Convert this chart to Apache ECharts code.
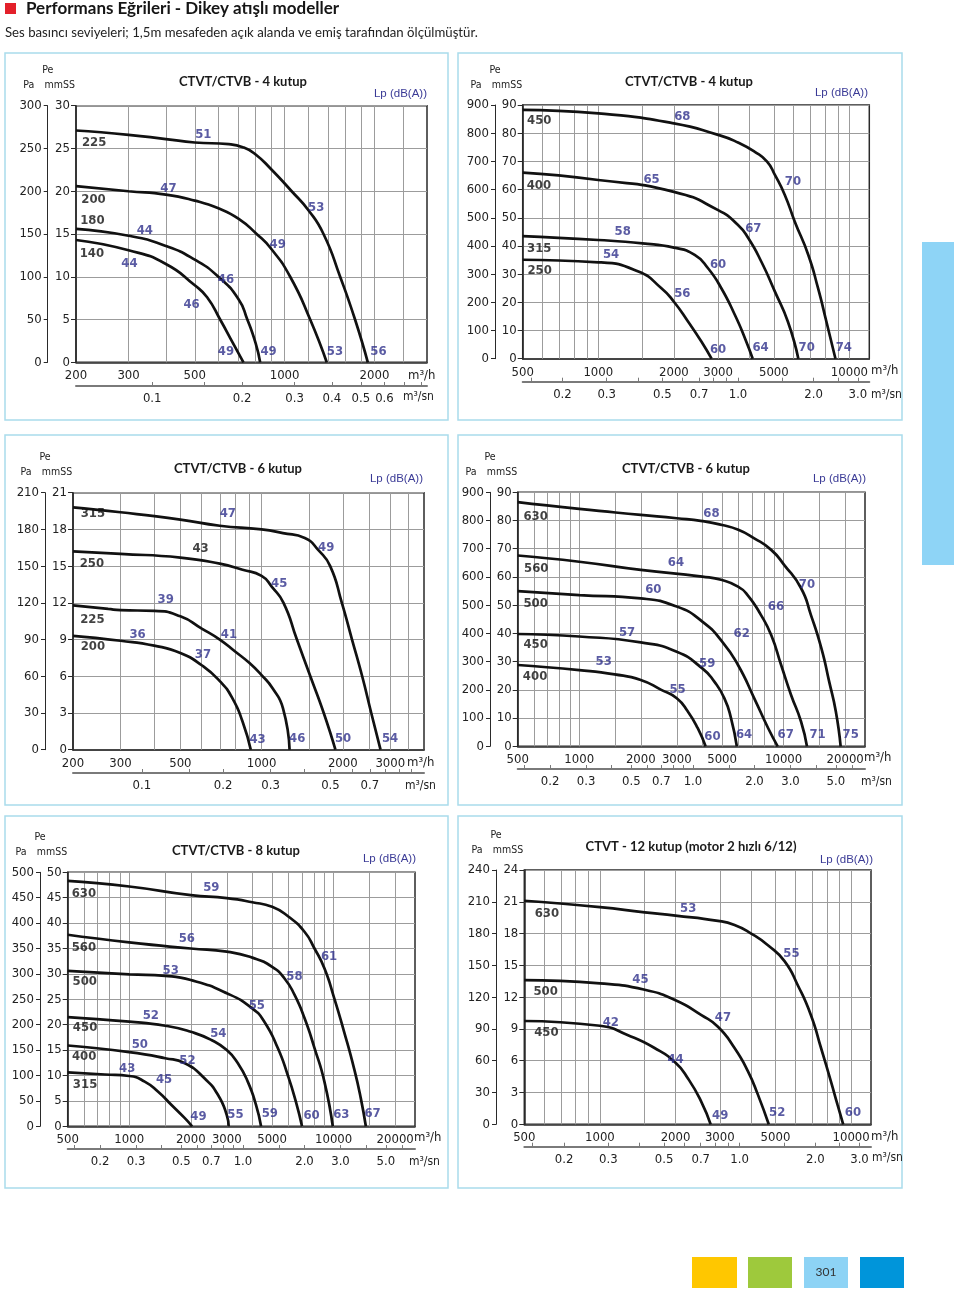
<!DOCTYPE html>
<html lang="tr">
<head>
<meta charset="utf-8">
<title>Performans Eğrileri - Dikey atışlı modeller</title>
<script src="https://cdn.jsdelivr.net/npm/echarts@6/dist/echarts.min.js"></script>
<style>
  html, body { margin: 0; padding: 0; background: #fff; }
  #chart { width: 960px; height: 1293px; }
</style>
</head>
<body>
<div id="chart"></div>
<script>
// ---- veriler: debi m3/h, basınç mmSS ----

// CTVT/CTVB - 4 kutup (küçük)
const p1Flow = [200, 300, 500, 1000, 2000];
const p1FlowSec = [0.1, 0.2, 0.3, 0.4, 0.5, 0.6];
const p1SecTicks = [0.1, 0.15, 0.2, 0.3, 0.4, 0.5, 0.6, 0.7, 0.8];
const p1VGrid = [300, 400, 500, 600, 700, 800, 900, 1000, 1200, 1400, 1600, 1800, 2000, 2500];
const p1c225 = [[200, 27.1], [300, 26.6], [400, 26.1], [500, 25.7], [650, 25.5], [730, 25.1], [800, 24.3], [900, 22.6], [1056, 20], [1200, 17.8], [1350, 15], [1535, 10], [1722, 5], [1900, 0]];
const p1c200 = [[200, 20.6], [300, 20.0], [400, 19.6], [500, 18.9], [600, 18.0], [700, 16.8], [806, 15], [900, 13.3], [1044, 10], [1218, 5], [1384, 0]];
const p1c180 = [[200, 15.6], [300, 14.8], [400, 13.6], [500, 12.0], [600, 10], [700, 7.4], [750, 5], [800, 2.2], [828, 0]];
const p1c140 = [[200, 14.3], [300, 13.1], [400, 11.5], [500, 9.0], [550, 7.6], [608, 5], [670, 2.3], [728, 0]];
const p1Lp = [[534, 26.6, '51'], [408, 20.3, '47'], [340, 15.4, '44'], [302, 11.5, '44'], [1276, 18.1, '53'], [948, 13.8, '49'], [636, 9.7, '46'], [488, 6.8, '46'], [636, 1.25, '49'], [884, 1.25, '49'], [1474, 1.25, '53'], [2063, 1.25, '56']];
const p1Sizes = [[230, 25.7, '225'], [229, 19.0, '200'], [227, 16.6, '180'], [226, 12.7, '140']];

// CTVT/CTVB - 4 kutup (büyük)
const p2Flow = [500, 1000, 2000, 3000, 5000, 10000];
const p2FlowSec = [0.2, 0.3, 0.5, 0.7, 1.0, 2.0, 3.0];
const p2SecTicks = [0.15, 0.2, 0.3, 0.4, 0.5, 0.6, 0.7, 0.8, 0.9, 1, 1.5, 2, 2.5, 3];
const p2VGrid = [600, 700, 800, 900, 1000, 1500, 2000, 3000, 4000, 5000, 6000, 7000, 8000, 9000, 10000];
const p2c450 = [[500, 88.3], [1000, 87.0], [2000, 83.5], [3000, 79.4], [3600, 76.7], [4200, 73.4], [4700, 69.9], [5050, 65.2], [5530, 58.1], [6060, 48.6], [6860, 36.8], [7500, 25], [8100, 13.1], [8800, 0]];
const p2c400 = [[500, 66.0], [1000, 63.4], [2000, 59.2], [3000, 52.7], [3600, 47.4], [3960, 42.7], [4460, 34.4], [5050, 23.8], [5690, 13.1], [6260, 0]];
const p2c315 = [[500, 43.5], [1000, 42.1], [1500, 40.9], [2000, 39.4], [2420, 36.8], [2740, 32], [3090, 25], [3500, 15.5], [3840, 7.2], [4120, 0]];
const p2c250 = [[500, 35.1], [1000, 34.2], [1444, 30.9], [1784, 25], [2000, 20.2], [2280, 13.1], [2577, 6], [2825, 0]];
const p2Lp = [[2160, 85.9, '68'], [1630, 63.7, '65'], [1250, 45.1, '58'], [1124, 37.0, '54'], [5960, 62.8, '70'], [4145, 46.0, '67'], [3000, 33.5, '60'], [2160, 23.2, '56'], [3000, 3.1, '60'], [4427, 3.9, '64'], [6760, 3.9, '70'], [9500, 3.9, '74']];
const p2Sizes = [[582, 84.4, '450'], [580, 61.4, '400'], [582, 39.1, '315'], [584, 31.1, '250']];

// CTVT/CTVB - 6 kutup (küçük)
const p3Flow = [200, 300, 500, 1000, 2000, 3000];
const p3FlowSec = [0.1, 0.2, 0.3, 0.5, 0.7];
const p3SecTicks = [0.1, 0.15, 0.2, 0.3, 0.4, 0.5, 0.6, 0.7, 0.8, 0.9, 1];
const p3VGrid = [300, 400, 500, 600, 700, 800, 900, 1000, 1500, 2000, 2500, 3000, 3500];
const p3c315 = [[200, 19.8], [300, 19.4], [500, 18.8], [700, 18.3], [1000, 18.0], [1200, 17.7], [1446, 17.3], [1624, 16.3], [1796, 15], [1984, 12], [2164, 9], [2360, 6], [2550, 3], [2760, 0]];
const p3c250 = [[200, 16.2], [300, 16.0], [500, 15.7], [700, 15.2], [850, 14.7], [1000, 14.2], [1092, 13.3], [1206, 12], [1352, 9], [1516, 6], [1700, 3], [1878, 0]];
const p3c225 = [[200, 11.8], [270, 11.5], [300, 11.4], [400, 11.35], [500, 10.9], [600, 9.9], [700, 9.0], [800, 8.0], [900, 7.1], [1000, 6.1], [1100, 5.0], [1200, 3.4], [1270, 0]];
const p3c200 = [[200, 9.3], [300, 8.9], [400, 8.5], [500, 7.9], [600, 6.9], [700, 5.6], [780, 4.2], [850, 2.3], [912, 0]];
const p3Lp = [[750, 19.3, '47'], [1736, 16.5, '49'], [1162, 13.6, '45'], [441, 12.3, '39'], [757, 9.37, '41'], [347, 9.4, '36'], [606, 7.74, '37'], [966, 0.82, '43'], [1355, 0.87, '46'], [2005, 0.9, '50'], [2994, 0.93, '54']];
const p3Sizes = [[237, 19.3, '315'], [235, 15.2, '250'], [236, 10.6, '225'], [237, 8.4, '200'], [594, 16.4, '43']];

// CTVT/CTVB - 6 kutup (büyük)
const p4Flow = [500, 1000, 2000, 3000, 5000, 10000, 20000];
const p4FlowSec = [0.2, 0.3, 0.5, 0.7, 1.0, 2.0, 3.0, 5.0];
const p4SecTicks = [0.15, 0.2, 0.3, 0.4, 0.5, 0.6, 0.7, 0.8, 0.9, 1, 1.5, 2, 3, 4, 5, 6];
const p4VGrid = [600, 700, 800, 900, 1000, 1500, 2000, 3000, 4000, 5000, 6000, 7000, 8000, 9000, 10000, 15000, 20000];
const p4c630 = [[500, 86.5], [1000, 84.1], [2000, 82.0], [3000, 80.8], [4000, 79.8], [5000, 78.4], [6000, 76.7], [7180, 73.7], [8690, 69.6], [10050, 64.3], [12170, 56], [13600, 46.5], [15300, 34.7], [16700, 22.9], [18000, 12.3], [19000, 0]];
const p4c560 = [[500, 67.6], [1000, 65.4], [2000, 62.5], [4000, 60.1], [5000, 58.9], [5980, 56.6], [6660, 53.6], [7750, 46.5], [8690, 39.4], [9720, 28.8], [10870, 18.2], [12170, 8.7], [13000, 0]];
const p4c500 = [[500, 55.0], [1000, 53.6], [2000, 52.4], [3000, 49.5], [4000, 44.2], [5000, 37.1], [5980, 28.8], [7180, 17.0], [8400, 6.4], [9350, 0]];
const p4c450 = [[500, 39.8], [1000, 38.9], [2000, 36.8], [3000, 33.5], [4000, 27.6], [4580, 22.9], [5130, 17.0], [5530, 9.9], [5900, 0]];
const p4c400 = [[500, 28.8], [1000, 27.0], [1490, 25.5], [2000, 23.5], [2520, 20.0], [3000, 17.0], [3400, 12.3], [3800, 6.4], [4150, 0]];
const p4Lp = [[4435, 82.3, '68'], [2970, 65.2, '64'], [2303, 55.4, '60'], [13000, 57.2, '70'], [9170, 49.4, '66'], [6235, 40.0, '62'], [1714, 40.4, '57'], [4226, 29.2, '59'], [1318, 30.1, '53'], [3027, 20.2, '55'], [4487, 3.5, '60'], [6400, 4.0, '64'], [10226, 4.2, '67'], [14650, 4.3, '71'], [21280, 4.3, '75']];
const p4Sizes = [[612, 81.4, '630'], [616, 62.9, '560'], [612, 50.7, '500'], [612, 36.2, '450'], [608, 24.6, '400']];

// CTVT/CTVB - 8 kutup
const p5Flow = [500, 1000, 2000, 3000, 5000, 10000, 20000];
const p5FlowSec = [0.2, 0.3, 0.5, 0.7, 1.0, 2.0, 3.0, 5.0];
const p5SecTicks = [0.15, 0.2, 0.3, 0.4, 0.5, 0.6, 0.7, 0.8, 0.9, 1, 1.5, 2, 3, 4, 5, 6];
const p5VGrid = [600, 700, 800, 900, 1000, 1500, 2000, 3000, 4000, 5000, 6000, 7000, 8000, 9000, 10000, 15000, 20000];
const p5c630 = [[500, 48.3], [1000, 47.2], [2000, 45.5], [3000, 44.9], [4000, 44.1], [5000, 43.2], [6000, 41.3], [7200, 38.3], [8060, 35], [9010, 31.1], [10070, 25.2], [11250, 18.6], [12580, 11.4], [13580, 5.5], [14370, 0]];
const p5c560 = [[500, 37.7], [1000, 36.2], [2000, 35.0], [3000, 34.4], [4000, 33.2], [5000, 31.4], [5750, 29.1], [6430, 25.9], [7200, 21.3], [8060, 15.4], [9010, 8.8], [9900, 0]];
const p5c500 = [[500, 30.6], [1000, 29.9], [1500, 29.6], [2000, 28.8], [3000, 26.2], [4000, 23.2], [4580, 20.6], [5330, 15.4], [5960, 10.1], [6530, 4.9], [7000, 0]];
const p5c450 = [[500, 21.5], [1000, 20.6], [1500, 19.8], [2000, 18.6], [2520, 17.0], [3000, 15.0], [3400, 12.4], [3800, 8.8], [4170, 4.2], [4414, 0]];
const p5c400 = [[500, 15.9], [1000, 14.6], [1500, 13.4], [1870, 12.4], [2340, 9.4], [2715, 6.2], [3000, 2.2], [3065, 0]];
const p5c315 = [[500, 10.6], [760, 10.2], [1000, 9.9], [1190, 8.8], [1385, 6.8], [1610, 4.2], [1870, 1.6], [2030, 0]];
const p5Lp = [[2520, 46.9, '59'], [1914, 36.9, '56'], [1595, 30.7, '53'], [9500, 33.4, '61'], [6430, 29.5, '58'], [4210, 23.75, '55'], [1275, 21.8, '52'], [2727, 18.2, '54'], [1127, 16.1, '50'], [1925, 12.9, '52'], [978, 11.4, '43'], [1480, 9.25, '45'], [2180, 1.84, '49'], [3310, 2.2, '55'], [4870, 2.4, '59'], [7800, 2.1, '60'], [10900, 2.2, '63'], [15500, 2.4, '67']];
const p5Sizes = [[600, 45.9, '630'], [600, 35.2, '560'], [606, 28.5, '500'], [608, 19.4, '450'], [602, 13.8, '400'], [608, 8.3, '315']];

// CTVT - 12 kutup
const p6Flow = [500, 1000, 2000, 3000, 5000, 10000];
const p6FlowSec = [0.2, 0.3, 0.5, 0.7, 1.0, 2.0, 3.0];
const p6SecTicks = [0.15, 0.2, 0.3, 0.4, 0.5, 0.6, 0.7, 0.8, 0.9, 1, 1.5, 2, 2.5, 3];
const p6VGrid = [600, 700, 800, 900, 1000, 1500, 2000, 3000, 4000, 5000, 6000, 7000, 8000, 9000, 10000];
const p6c630 = [[500, 21.1], [1000, 20.5], [1508, 20.0], [2000, 19.7], [2950, 19.2], [3435, 18.8], [4000, 18.0], [4665, 16.9], [5430, 15.4], [6140, 13.1], [6920, 10.3], [7590, 7.2], [8320, 4.0], [8840, 1.8], [9300, 0]];
const p6c500 = [[500, 13.6], [1000, 13.3], [1508, 12.7], [2000, 11.7], [2536, 10.3], [2950, 9.2], [3435, 7.2], [3885, 5.0], [4255, 2.8], [4700, 0]];
const p6c450 = [[500, 9.75], [1000, 9.3], [1294, 8.4], [1650, 7.2], [2000, 5.8], [2245, 4.3], [2536, 2.1], [2760, 0]];
const p6Lp = [[2245, 20.4, '53'], [5790, 16.1, '55'], [1450, 13.7, '45'], [3090, 10.1, '47'], [1105, 9.6, '42'], [2000, 6.1, '44'], [3010, 0.8, '49'], [5080, 1.1, '52'], [10170, 1.1, '60']];
const p6Sizes = [[615, 19.9, '630'], [608, 12.5, '500'], [612, 8.65, '450']];

// ---- yerleşim ----
const NARROW = "'Liberation Sans Narrow','DejaVu Sans Condensed','Liberation Sans',sans-serif";
const SANS = "Lato, 'Open Sans', sans-serif";
const BLUE = '#31328c';
const INK = '#222';

const panels = [
  { box: [5, 53, 443, 367], left: 76, top: 105.7, width: 351, height: 256.6, paOffset: 28.3, secOffset: 23.7,
    xMin: 200, xMax: 3000, yMax: 30, yInt: 5, title: 'CTVT/CTVB - 4 kutup', titlePos: [243, 82], lpPos: [427, 94],
    unitH: [408, 376], unitS: [403, 397],
    flow: p1Flow, flowSec: p1FlowSec, secTicks: p1SecTicks, vGrid: p1VGrid,
    curves: [p1c225, p1c200, p1c180, p1c140], lp: p1Lp, sizes: p1Sizes },
  { box: [458, 53, 444, 367], left: 522.7, top: 105, width: 346.6, height: 253.7, paOffset: 27.7, secOffset: 23,
    xMin: 500, xMax: 12000, yMax: 90, yInt: 10, title: 'CTVT/CTVB - 4 kutup', titlePos: [689, 82], lpPos: [868, 93],
    unitH: [871, 371], unitS: [871, 395],
    flow: p2Flow, flowSec: p2FlowSec, secTicks: p2SecTicks, vGrid: p2VGrid,
    curves: [p2c450, p2c400, p2c315, p2c250], lp: p2Lp, sizes: p2Sizes },
  { box: [5, 435, 443, 370], left: 73, top: 492.7, width: 351, height: 257, paOffset: 28, secOffset: 23.3,
    xMin: 200, xMax: 4000, yMax: 21, yInt: 3, title: 'CTVT/CTVB - 6 kutup', titlePos: [238, 469], lpPos: [423, 479],
    unitH: [407, 763], unitS: [405, 786],
    flow: p3Flow, flowSec: p3FlowSec, secTicks: p3SecTicks, vGrid: p3VGrid,
    curves: [p3c315, p3c250, p3c225, p3c200], lp: p3Lp, sizes: p3Sizes },
  { box: [458, 435, 444, 370], left: 517.7, top: 492.3, width: 347.3, height: 254, paOffset: 27.7, secOffset: 22.7,
    xMin: 500, xMax: 25000, yMax: 90, yInt: 10, title: 'CTVT/CTVB - 6 kutup', titlePos: [686, 469], lpPos: [866, 479],
    unitH: [864, 758], unitS: [861, 782],
    flow: p4Flow, flowSec: p4FlowSec, secTicks: p4SecTicks, vGrid: p4VGrid,
    curves: [p4c630, p4c560, p4c500, p4c450, p4c400], lp: p4Lp, sizes: p4Sizes },
  { box: [5, 816, 443, 372], left: 67.7, top: 872.3, width: 347.3, height: 254, paOffset: 27.7, secOffset: 22.7,
    xMin: 500, xMax: 25000, yMax: 50, yInt: 5, title: 'CTVT/CTVB - 8 kutup', titlePos: [236, 851], lpPos: [416, 859],
    unitH: [414, 1138], unitS: [409, 1162],
    flow: p5Flow, flowSec: p5FlowSec, secTicks: p5SecTicks, vGrid: p5VGrid,
    curves: [p5c630, p5c560, p5c500, p5c450, p5c400, p5c315], lp: p5Lp, sizes: p5Sizes },
  { box: [458, 816, 444, 372], left: 524.3, top: 870, width: 346.7, height: 254.3, paOffset: 28.3, secOffset: 22.4,
    xMin: 500, xMax: 12000, yMax: 24, yInt: 3, title: 'CTVT - 12 kutup (motor 2 hızlı 6/12)', titlePos: [691, 847], lpPos: [873, 860],
    unitH: [871, 1137], unitS: [872, 1158],
    flow: p6Flow, flowSec: p6FlowSec, secTicks: p6SecTicks, vGrid: p6VGrid,
    curves: [p6c630, p6c500, p6c450], lp: p6Lp, sizes: p6Sizes }
];

const grid = [], xAxis = [], yAxis = [], series = [];
const graphic = [
  { type: 'rect', shape: { x: 5, y: 3, width: 11, height: 11 }, style: { fill: '#e3202a' } },
  { type: 'text', x: 26, y: 9, style: { text: 'Performans Eğrileri - Dikey atışlı modeller', fontFamily: SANS, fontWeight: 'bold', fontSize: 17, fill: '#151515', verticalAlign: 'middle' } },
  { type: 'text', x: 5, y: 33, style: { text: 'Ses basıncı seviyeleri; 1,5m mesafeden açık alanda ve emiş tarafından ölçülmüştür.', fontFamily: SANS, fontSize: 13.2, fill: INK, verticalAlign: 'middle' } },
  { type: 'rect', shape: { x: 922, y: 242, width: 32, height: 323 }, style: { fill: '#8ed4f6' } },
  { type: 'rect', shape: { x: 692, y: 1257, width: 45, height: 31 }, style: { fill: '#ffc700' } },
  { type: 'rect', shape: { x: 748, y: 1257, width: 44, height: 31 }, style: { fill: '#9ec93c' } },
  { type: 'rect', shape: { x: 804, y: 1257, width: 44, height: 31 }, style: { fill: '#8dd3f5' } },
  { type: 'rect', shape: { x: 860, y: 1257, width: 44, height: 31 }, style: { fill: '#0095da' } },
  { type: 'text', x: 826, y: 1272, style: { text: '301', fontFamily: SANS, fontSize: 12, fill: '#333', align: 'center', verticalAlign: 'middle' } }
];

const numLabel = { color: INK, fontFamily: NARROW, fontSize: 13 };

panels.forEach((p, i) => {
  const [bx, by, bw, bh] = p.box;
  graphic.push({ type: 'rect', silent: true, shape: { x: bx, y: by, width: bw, height: bh },
    style: { fill: null, stroke: '#a9dcec', lineWidth: 1.5 } });

  grid.push({ left: p.left, top: p.top, width: p.width, height: p.height, show: true,
    borderColor: '#2a2a2a', borderWidth: 1.5, backgroundColor: 'rgba(0,0,0,0)' });

  // debi m3/h
  xAxis.push({ type: 'log', gridIndex: i, position: 'bottom', min: p.xMin, max: p.xMax,
    axisLine: { show: true, onZero: false, lineStyle: { color: '#2a2a2a', width: 1.5 } },
    axisTick: { show: false }, splitLine: { show: false },
    axisLabel: Object.assign({ customValues: p.flow, margin: 7, formatter: v => String(Math.round(v)) }, numLabel) });
  // debi m3/sn
  xAxis.push({ type: 'log', gridIndex: i, position: 'bottom', offset: p.secOffset, min: p.xMin / 3600, max: p.xMax / 3600,
    axisLine: { show: true, onZero: false, lineStyle: { color: '#7a7a7a', width: 2 } },
    axisTick: { show: true, inside: true, length: 4, customValues: p.secTicks, lineStyle: { color: '#7a7a7a', width: 1 } },
    splitLine: { show: false },
    axisLabel: Object.assign({ customValues: p.flowSec, margin: 6,
      formatter: v => (v >= 1 ? v.toFixed(1) : String(+v.toFixed(2))) }, numLabel) });
  // mmSS
  yAxis.push({ type: 'value', gridIndex: i, position: 'left', min: 0, max: p.yMax, interval: p.yInt,
    axisLine: { show: true, lineStyle: { color: '#2a2a2a', width: 1.5 } },
    axisTick: { show: true, length: 5, lineStyle: { color: '#2a2a2a' } },
    splitLine: { show: true, lineStyle: { color: '#9c9c9c', width: 1 } },
    axisLabel: Object.assign({ margin: 6 }, numLabel) });
  // Pa
  yAxis.push({ type: 'value', gridIndex: i, position: 'left', offset: p.paOffset, min: 0, max: p.yMax * 10, interval: p.yInt * 10,
    axisLine: { show: true, lineStyle: { color: '#2a2a2a', width: 1 } },
    axisTick: { show: true, length: 4, lineStyle: { color: '#2a2a2a' } },
    splitLine: { show: false },
    axisLabel: Object.assign({ margin: 6 }, numLabel) });

  const xi = 2 * i, yi = 2 * i;

  // dikey ızgara çizgileri
  series.push({ type: 'line', xAxisIndex: xi, yAxisIndex: yi, data: [], silent: true,
    markLine: { silent: true, symbol: ['none', 'none'], label: { show: false }, z: 1,
      lineStyle: { color: '#9c9c9c', width: 1, type: 'solid' },
      data: p.vGrid.map(v => ({ xAxis: v })) } });

  p.curves.forEach(c => {
    series.push({ type: 'line', xAxisIndex: xi, yAxisIndex: yi, data: c, smooth: 0.55,
      symbol: 'none', silent: true, z: 3, lineStyle: { color: '#111', width: 2.7 } });
  });

  series.push({ type: 'scatter', xAxisIndex: xi, yAxisIndex: yi, data: p.lp, symbolSize: 1, silent: true, z: 4,
    itemStyle: { color: 'rgba(0,0,0,0)' },
    label: { show: true, position: 'inside', formatter: q => String(q.value[2]),
      color: BLUE, fontFamily: NARROW, fontWeight: 'bold', fontSize: 13 } });
  series.push({ type: 'scatter', xAxisIndex: xi, yAxisIndex: yi, data: p.sizes, symbolSize: 1, silent: true, z: 4,
    itemStyle: { color: 'rgba(0,0,0,0)' },
    label: { show: true, position: 'inside', formatter: q => String(q.value[2]),
      color: '#111', fontFamily: NARROW, fontWeight: 'bold', fontSize: 13 } });

  // eksen başlıkları ve yazılar
  const paX = p.left - p.paOffset;
  const small = { fontFamily: NARROW, fontSize: 10.5, fill: INK, align: 'center', verticalAlign: 'middle' };
  graphic.push({ type: 'text', x: paX, y: p.top - 35, style: Object.assign({ text: 'Pe' }, small) });
  graphic.push({ type: 'text', x: paX - 19, y: p.top - 20, style: Object.assign({ text: 'Pa' }, small) });
  graphic.push({ type: 'text', x: paX + 12, y: p.top - 20, style: Object.assign({ text: 'mmSS' }, small) });
  graphic.push({ type: 'text', x: p.titlePos[0], y: p.titlePos[1], style: { text: p.title, fontFamily: SANS, fontWeight: 'bold',
    fontSize: 13, fill: '#1a1a1a', align: 'center', verticalAlign: 'middle' } });
  graphic.push({ type: 'text', x: p.lpPos[0], y: p.lpPos[1], style: { text: 'Lp (dB(A))', fontFamily: "'Liberation Sans', sans-serif",
    fontSize: 11.5, fill: '#3a3a96', align: 'right', verticalAlign: 'middle' } });
  graphic.push({ type: 'text', x: p.unitH[0], y: p.unitH[1], style: { text: 'm³/h', fontFamily: NARROW, fontSize: 13,
    fill: INK, align: 'left', verticalAlign: 'middle' } });
  graphic.push({ type: 'text', x: p.unitS[0], y: p.unitS[1], style: { text: 'm³/sn', fontFamily: NARROW, fontSize: 12,
    fill: INK, align: 'left', verticalAlign: 'middle' } });
});

const chart = echarts.init(document.getElementById('chart'));
chart.setOption({
  animation: false,
  backgroundColor: '#fff',
  grid, xAxis, yAxis, series, graphic
});
</script>
</body>
</html>
